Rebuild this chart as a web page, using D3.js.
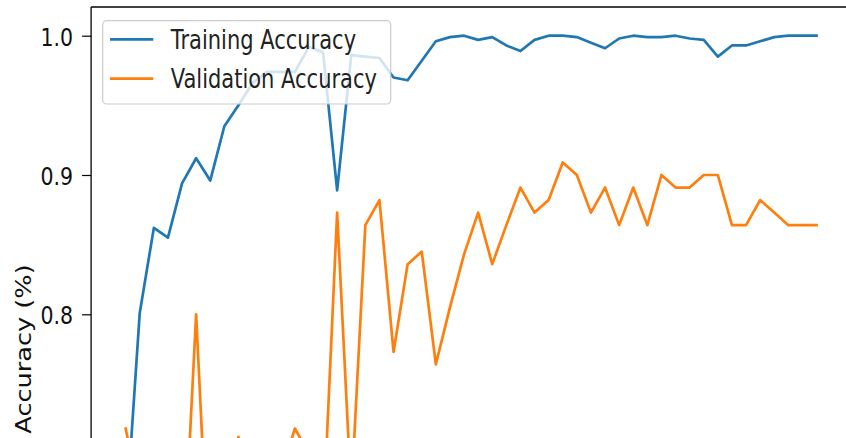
<!DOCTYPE html>
<html>
<head>
<meta charset="utf-8">
<script src="https://cdn.jsdelivr.net/npm/d3@7"></script>
<style>
  html, body { margin: 0; padding: 0; background: #ffffff; }
  svg { display: block; }
  text { font-family: "DejaVu Sans", sans-serif; }
</style>
</head>
<body>
<div id="chart"></div>
<script>
// ---- data ----
const epochs = [0,1,2,3,4,5,6,7,8,9,10,11,12,13,14,15,16,17,18,19,20,21,22,23,24,25,26,27,28,29,30,31,32,33,34,35,36,37,38,39,40,41,42,43,44,45,46,47,48,49];
const trainingAccuracy = [0.650,0.801,0.862,0.855,0.894,0.912,0.896,0.935,0.950,0.966,
  0.974,0.974,0.974,0.992,0.988,0.889,0.986,0.985,0.984,0.970,
  0.968,0.982,0.996,0.999,1.000,0.997,0.999,0.993,0.989,0.997,
  1.000,1.000,0.999,0.995,0.991,0.998,1.000,0.999,0.999,1.000,
  0.998,0.997,0.985,0.993,0.993,0.996,0.999,1.000,1.000,1.000];
const validationAccuracy = [0.718,0.670,0.650,0.709,0.600,0.800,0.590,0.660,0.712,0.660,
  0.680,0.685,0.718,0.700,0.650,0.873,0.670,0.864,0.882,0.773,
  0.836,0.845,0.764,0.805,0.843,0.873,0.836,0.864,0.891,0.873,
  0.882,0.909,0.900,0.873,0.891,0.864,0.891,0.864,0.900,0.891,
  0.891,0.900,0.900,0.864,0.864,0.882,0.873,0.864,0.864,0.864];
const yTicks = [0.8, 0.9, 1.0];
const yTickLabels = ["0.8", "0.9", "1.0"];
const seriesNames = ["Training Accuracy", "Validation Accuracy"];
const seriesColors = ["#1f77b4", "#ff7f0e"];
const yLabel = "Accuracy (%)";

// ---- layout ----
const W = 846, H = 438;
const plotLeft = 91.1, plotTop = 7, plotBottom = 700;
const FS = 20.5, FSL = 21, SY = 1.25;

const x = d3.scaleLinear().domain([-2.45, 51.45]).range([plotLeft, plotLeft + 53.9 * 14.1]);
const y = d3.scaleLinear().domain([0.7, 1.0]).range([453.6, 35.7]);

const svg = d3.select("#chart").append("svg").attr("width", W).attr("height", H);
svg.append("rect").attr("width", W).attr("height", H).attr("fill", "#fff");

svg.append("defs").append("clipPath").attr("id", "plotclip")
  .append("rect").attr("x", plotLeft).attr("y", plotTop).attr("width", 800).attr("height", plotBottom - plotTop);

const line = d3.line().x((d, i) => x(epochs[i])).y(d => y(d));
const plot = svg.append("g").attr("clip-path", "url(#plotclip)");
[trainingAccuracy, validationAccuracy].forEach((s, k) => {
  plot.append("path").datum(s).attr("d", line)
    .attr("fill", "none").attr("stroke", seriesColors[k])
    .attr("stroke-width", 2.7).attr("stroke-linejoin", "round").attr("stroke-linecap", "square");
});

// y axis
const yAxis = d3.axisLeft(y).tickValues(yTicks).tickSize(9)
  .tickFormat((d, i) => yTickLabels[i]);
const ag = svg.append("g").attr("transform", `translate(${plotLeft},0)`).call(yAxis);
ag.select(".domain").remove();
ag.selectAll(".tick line").attr("stroke", "#000").attr("stroke-width", 1.2);
ag.selectAll(".tick text")
  .attr("x", 0).attr("dy", null).attr("y", null)
  .attr("transform", "translate(-18,9.3) scale(1," + SY + ")")
  .attr("font-size", FS).attr("font-family", "DejaVu Sans").attr("fill", "#111")
  .attr("text-anchor", "end");

// spines
svg.append("line").attr("x1", plotLeft).attr("x2", plotLeft).attr("y1", plotTop).attr("y2", plotBottom)
  .attr("stroke", "#000").attr("stroke-width", 1.3);
svg.append("line").attr("x1", plotLeft).attr("x2", W + 10).attr("y1", plotTop).attr("y2", plotTop)
  .attr("stroke", "#000").attr("stroke-width", 1.3);

// y label
svg.append("text").text(yLabel)
  .attr("transform", `translate(30.5,349) scale(1,${SY}) rotate(-90)`)
  .attr("text-anchor", "middle").attr("font-size", FS).attr("fill", "#111");

// legend
const lg = svg.append("g");
lg.append("rect").attr("x", 102.7).attr("y", 20.7).attr("width", 288).attr("height", 83.3)
  .attr("rx", 4).attr("fill", "#fff").attr("fill-opacity", 0.8)
  .attr("stroke", "#cccccc").attr("stroke-width", 1.2);
const rowY = [39.3, 78.7];
seriesNames.forEach((name, k) => {
  lg.append("line").attr("x1", 110).attr("x2", 153.3).attr("y1", rowY[k]).attr("y2", rowY[k])
    .attr("stroke", seriesColors[k]).attr("stroke-width", 2.7);
  lg.append("text").text(name)
    .attr("transform", `translate(170.7,${rowY[k] + 9.4}) scale(1,${SY})`)
    .attr("font-size", FSL).attr("fill", "#222");
});
</script>
</body>
</html>
